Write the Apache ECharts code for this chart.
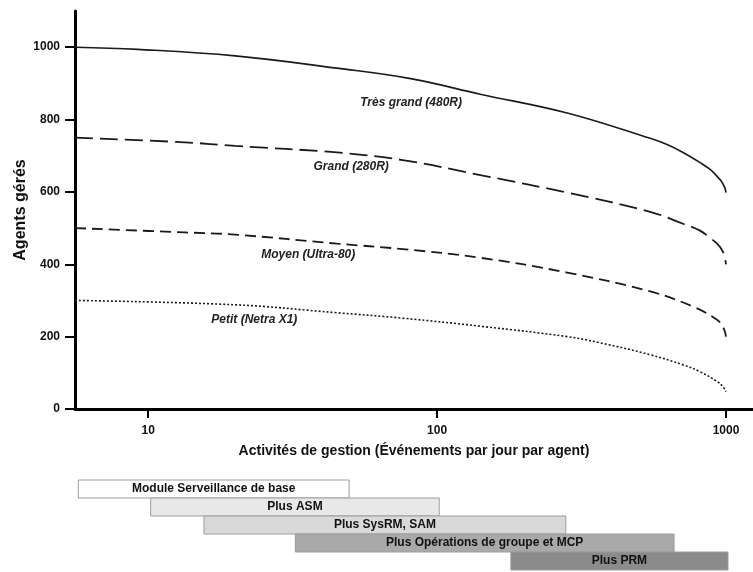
<!DOCTYPE html>
<html><head><meta charset="utf-8">
<script src="https://cdn.jsdelivr.net/npm/echarts@6/dist/echarts.min.js"></script>
<style>html,body{margin:0;padding:0;background:#fff}#c{width:753px;height:572px}</style>
</head><body><div id="c"></div>
<script>
// ---- data ----
const xTickValues = [10, 100, 1000];
const yTickValues = [0, 200, 400, 600, 800, 1000];

const tresGrandX = [5.58, 9.2, 20, 45, 81, 141, 282, 546, 625, 710, 813, 881, 931, 962, 990, 1000];
const tresGrandY = [1000, 994, 976, 942, 913, 870, 818, 748, 731, 709, 681, 662, 643, 630, 612, 598];

const grandX = [5.58, 13.4, 20, 45, 76, 144, 282, 546, 710, 813, 881, 931, 962, 985, 1000];
const grandY = [750, 737, 727, 709, 688, 645, 598, 545, 512, 493, 473, 457, 443, 426, 400];

const moyenX = [5.58, 13.4, 20, 45, 76, 141, 282, 546, 769, 931, 970, 990, 1000];
const moyenY = [500, 488, 482, 457, 442, 418, 377, 325, 283, 247, 230, 215, 200];

const petitX = [5.58, 20, 45, 76, 144, 282, 366, 546, 710, 813, 931, 975, 1000];
const petitY = [300, 288, 266, 251, 228, 200, 183, 150, 122, 103, 76, 62, 48];

const curveNames = ['Très grand (480R)', 'Grand (280R)', 'Moyen (Ultra-80)', 'Petit (Netra X1)'];
const curveLabelX = [81.3, 50.4, 35.8, 23.3];
const curveLabelY = [846, 669, 426, 246];

const modules = ['Module Serveillance de base', 'Plus ASM', 'Plus SysRM, SAM', 'Plus Opérations de groupe et MCP', 'Plus PRM'];
const moduleStart = [5.73, 10.2, 15.6, 32.3, 180];
const moduleEnd = [49.6, 101.7, 279, 661, 1016];
const moduleColors = ['#ffffff', '#e8e8e8', '#d9d9d9', '#a9a9a9', '#8b8b8b'];

// ---- chart ----
const FONT = '"Liberation Sans", Arial, Helvetica, sans-serif';
const X_MIN = 5.58, X_MAX = 1240;
const zip = (xs, ys) => xs.map((x, i) => [x, ys[i]]);
const styles = [
  {type: 'solid', width: 1.6},
  {type: [18, 7], width: 1.8},
  {type: [11, 6], width: 1.8},
  {type: [2, 2], width: 1.6}
];
const xs = [tresGrandX, grandX, moyenX, petitX];
const ys = [tresGrandY, grandY, moyenY, petitY];

const lineSeries = curveNames.map((n, i) => ({
  type: 'line', name: n, xAxisIndex: 0, yAxisIndex: 0,
  data: zip(xs[i], ys[i]), showSymbol: false, symbol: 'none',
  smooth: 0.4,
  lineStyle: {color: '#1a1a1a', width: styles[i].width, type: styles[i].type},
  markPoint: {
    symbol: 'circle', symbolSize: 0, silent: true,
    data: [{coord: [curveLabelX[i], curveLabelY[i]], value: n}],
    label: {show: true, position: 'inside', formatter: n, fontFamily: FONT, fontSize: 12,
      fontStyle: 'italic', fontWeight: 'bold', color: '#222'}
  }
}));

const chart = echarts.init(document.getElementById('c'), null, {renderer: 'canvas'});
chart.setOption({
  animation: false,
  backgroundColor: '#fff',
  grid: [
    {left: 75, right: 0, top: 11, height: 398, outerBoundsMode: 'none', containLabel: false},
    {left: 75, right: 0, top: 480, height: 90, outerBoundsMode: 'none', containLabel: false}
  ],
  xAxis: [
    {type: 'log', gridIndex: 0, min: X_MIN, max: X_MAX,
     name: 'Activités de gestion (Événements par jour par agent)', nameLocation: 'middle', nameGap: 35,
     nameMoveOverlap: false,
     nameTextStyle: {fontFamily: FONT, fontSize: 14, fontWeight: 'bold', color: '#111'},
     axisLine: {show: true, lineStyle: {color: '#000', width: 3}},
     axisTick: {show: true, length: 9, lineStyle: {color: '#000', width: 2}, customValues: xTickValues},
     minorTick: {show: false},
     axisLabel: {customValues: xTickValues, formatter: v => String(Math.round(v)),
       fontFamily: FONT, fontSize: 12, fontWeight: 'bold', color: '#111', margin: 16},
     splitLine: {show: false}},
    {type: 'log', gridIndex: 1, min: X_MIN, max: X_MAX, show: false}
  ],
  yAxis: [
    {type: 'value', gridIndex: 0, min: 0, max: 1100, interval: 200,
     name: 'Agents gérés', nameLocation: 'middle', nameGap: 46, nameMoveOverlap: false,
     nameTextStyle: {fontFamily: FONT, fontSize: 16, fontWeight: 'bold', color: '#111'},
     axisLine: {show: true, lineStyle: {color: '#000', width: 3}},
     axisTick: {show: true, length: 10, lineStyle: {color: '#000', width: 2}, customValues: yTickValues},
     axisLabel: {customValues: yTickValues, formatter: v => String(v),
       fontFamily: FONT, fontSize: 12, fontWeight: 'bold', color: '#111', margin: 15},
     splitLine: {show: false}},
    {type: 'value', gridIndex: 1, min: 0, max: 5, inverse: true, show: false}
  ],
  series: lineSeries.concat([{
    type: 'custom', xAxisIndex: 1, yAxisIndex: 1,
    data: modules.map((m, i) => [moduleStart[i], moduleEnd[i], i]),
    encode: {x: [0, 1], y: 2},
    renderItem: function (params, api) {
      const i = api.value(2);
      const p0 = api.coord([api.value(0), i]);
      const p1 = api.coord([api.value(1), i + 1]);
      return {type: 'group', children: [
        {type: 'rect', shape: {x: p0[0], y: p0[1], width: p1[0] - p0[0], height: p1[1] - p0[1]},
         style: {fill: moduleColors[i], stroke: '#9d9d9d', lineWidth: 1}},
        {type: 'text', style: {text: modules[i], x: (p0[0] + p1[0]) / 2, y: (p0[1] + p1[1]) / 2,
          align: 'center', verticalAlign: 'middle', font: 'bold 12px ' + FONT, fill: '#111'}}
      ]};
    }
  }])
});
</script></body></html>
